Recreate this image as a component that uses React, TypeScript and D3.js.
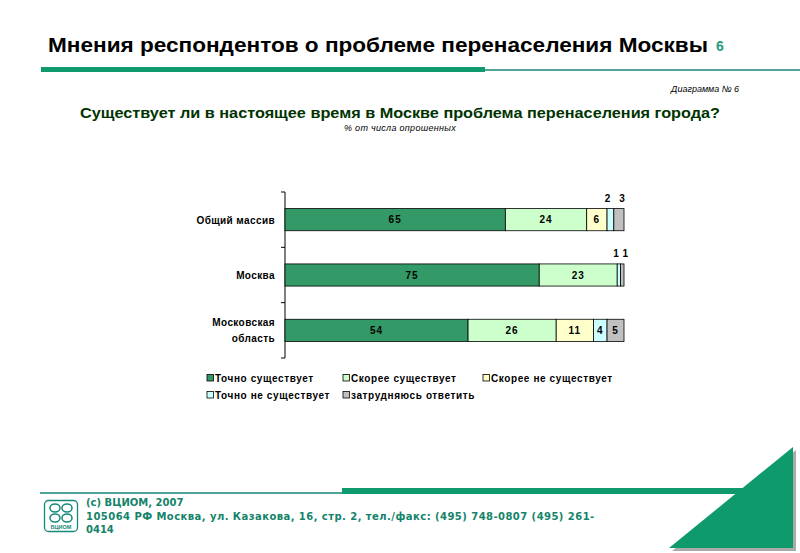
import React from "react";
import * as d3 from "d3";

const categories = ["Общий массив", "Москва", "Московская область"];
const categoryLines = [["Общий массив"], ["Москва"], ["Московская", "область"]];
const seriesNames = [
  "Точно существует",
  "Скорее существует",
  "Скорее не существует",
  "Точно не существует",
  "затрудняюсь ответить",
];
const seriesColors = ["#339966", "#ccffcc", "#ffffcc", "#ccffff", "#c0c0c0"];
const s1 = [65, 75, 54];
const s2 = [24, 23, 26];
const s3 = [6, 0, 11];
const s4 = [2, 1, 4];
const s5 = [3, 1, 5];
const series = [s1, s2, s3, s4, s5];

const W = 800;
const H = 553;
const FONT = "Arial, 'Liberation Sans', sans-serif";
const GREEN = "#0e9a6c";
const TEAL = "#16887a";

export default function App() {
  const x = d3.scaleLinear().domain([0, 100]).range([285, 624]);
  const y = d3.scaleBand<string>().domain(categories).range([192, 358]).paddingInner(0.6).paddingOuter(0.3);
  const step = y.step();

  const stacked = categories.map((c, i) => {
    let acc = 0;
    return series.map((s, k) => {
      const v = s[i];
      const seg = { k, v, x0: acc, x1: acc + v };
      acc += v;
      return seg;
    });
  });

  const ticks = d3.range(categories.length + 1).map((i) => 192 + i * step);

  const legendRows = [
    [0, 1, 2],
    [3, 4],
  ];
  const legendX = [207, 343, 483];
  const legendY = [381, 398];

  return (
    <svg width={W} height={H} style={{ position: "absolute", left: 0, top: 0, background: "#fff" }} fontFamily={FONT}>
      <rect width={W} height={H} fill="#fff" />
      {/* header */}
      <text x={48} y={52} fontSize={21} fontWeight="bold" fill="#000" textLength={660} lengthAdjust="spacingAndGlyphs">
        Мнения респондентов о проблеме перенаселения Москвы
      </text>
      <text x={716} y={51} fontSize={14} fontWeight="bold" fill="#2a9a80">6</text>
      <rect x={41} y={67} width={444} height={5} fill={GREEN} />
      <line x1={485} x2={800} y1={70} y2={70} stroke={TEAL} strokeWidth={1.5} />

      <text x={739} y={92} fontSize={9} fontStyle="italic" textAnchor="end" fill="#000">Диаграмма № 6</text>
      <text x={80} y={118} fontSize={15} fontWeight="bold" fill="#003300" textLength={640} lengthAdjust="spacingAndGlyphs">
        Существует ли в настоящее время в Москве проблема перенаселения города?
      </text>
      <text x={400} y={131} fontSize={9} fontStyle="italic" textAnchor="middle" fill="#000" letterSpacing={0.3}>% от числа опрошенных</text>

      {/* axis */}
      <line x1={285} x2={285} y1={192} y2={358} stroke="#000" strokeWidth={1} />
      {ticks.map((t, i) => (
        <line key={i} x1={281} x2={285} y1={t} y2={t} stroke="#000" strokeWidth={1} />
      ))}

      {/* bars */}
      {categories.map((c, i) => {
        const by = y(c)!;
        const bh = y.bandwidth();
        const aboveSegs = stacked[i].filter((s) => s.v > 0 && s.v <= 3).map((s) => s.k);
        return (
          <g key={c}>
            {stacked[i].map((seg) =>
              seg.v > 0 ? (
                <rect
                  key={seg.k}
                  x={x(seg.x0)}
                  y={by}
                  width={x(seg.x1) - x(seg.x0)}
                  height={bh}
                  fill={seriesColors[seg.k]}
                  stroke="#000"
                  strokeWidth={0.8}
                />
              ) : null
            )}
            {stacked[i].map((seg) => {
              if (seg.v <= 0) return null;
              const cx = (x(seg.x0) + x(seg.x1)) / 2;
              const above = seg.v <= 3;
              let dx = 0;
              if (above && aboveSegs.length === 2) dx = aboveSegs.indexOf(seg.k) === 0 ? -3 : 3;
              return (
                <text
                  key={"t" + seg.k}
                  x={cx + dx}
                  y={above ? by - 7 : by + bh / 2 + 3.5}
                  fontSize={10}
                  fontWeight="bold"
                  textAnchor="middle"
                  letterSpacing={above ? 0 : 1}
                  fill="#000"
                >
                  {seg.v}
                </text>
              );
            })}
            {categoryLines[i].map((ln, j) => (
              <text
                key={ln}
                x={275}
                y={by + bh / 2 + 4 + (j - (categoryLines[i].length - 1) / 2) * 16}
                fontSize={10}
                fontWeight="bold"
                textAnchor="end"
                letterSpacing={0.4}
                fill="#000"
              >
                {ln}
              </text>
            ))}
          </g>
        );
      })}

      {/* legend */}
      {legendRows.map((row, r) =>
        row.map((k, j) => (
          <g key={k}>
            <rect x={legendX[j]} y={legendY[r] - 6.5} width={6.5} height={6.5} fill={seriesColors[k]} stroke="#000" strokeWidth={0.8} />
            <text x={legendX[j] + 8} y={legendY[r] + 0.5} fontSize={10} fontWeight="bold" fill="#000" letterSpacing={0.6}>
              {seriesNames[k]}
            </text>
          </g>
        ))
      )}

      {/* footer */}
      <line x1={40} x2={342} y1={493} y2={493} stroke={TEAL} strokeWidth={1.5} />
      <rect x={342} y={488} width={420} height={6} fill={GREEN} />
      <polygon points="796,450 672,551 796,551" fill="#aaaaaa" />
      <polygon points="793,447 669,548 793,548" fill={GREEN} />

      <g>
        <rect x={44.5} y={500.5} width={33} height={31} rx={4} fill="#fff" stroke={TEAL} strokeWidth={1.3} />
        <ellipse cx={55} cy={508} rx={5} ry={4} fill="none" stroke={TEAL} strokeWidth={1.5} />
        <ellipse cx={67} cy={508} rx={5} ry={4} fill="none" stroke={TEAL} strokeWidth={1.5} />
        <ellipse cx={55} cy={518} rx={5} ry={4} fill="none" stroke={TEAL} strokeWidth={1.5} />
        <ellipse cx={67} cy={518} rx={5} ry={4} fill="none" stroke={TEAL} strokeWidth={1.5} />
        <text x={61} y={529} fontSize={5.5} fontWeight="bold" textAnchor="middle" fill={TEAL}>ВЦИОМ</text>
      </g>
      <g fontFamily="'DejaVu Sans', Verdana, sans-serif" fontSize={10} fontWeight="bold" fill="#14836a">
        <text x={86} y={506}>(c) ВЦИОМ, 2007</text>
        <text x={86} y={520} letterSpacing={0.45}>105064 РФ Москва, ул. Казакова, 16, стр. 2, тел./факс: (495) 748-0807 (495) 261-</text>
        <text x={86} y={533}>0414</text>
      </g>
    </svg>
  );
}
